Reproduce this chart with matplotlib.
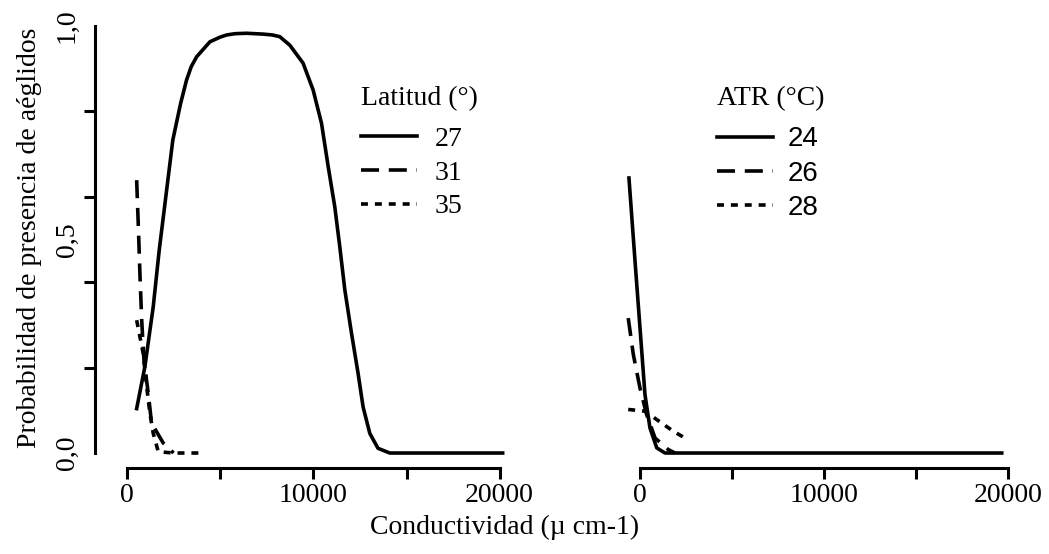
import numpy as np
import matplotlib
matplotlib.use('Agg')
from matplotlib import pyplot as plt
from matplotlib.ticker import FixedLocator

# left panel: latitude (conductivity, probability)
lat27_x = [520, 960, 1410, 1730, 2460, 2880, 3200, 3450, 3740, 4450, 5000, 5350, 5800, 6420,
           7310, 7800, 8200, 8740, 9450, 9990, 10440, 10800, 11150, 11420, 11690, 12050,
           12400, 12670, 13030, 13470, 14100, 15000, 20160]
lat27_y = [0.104, 0.202, 0.343, 0.475, 0.733, 0.819, 0.874, 0.905, 0.928, 0.963, 0.974, 0.979,
           0.982, 0.983, 0.981, 0.979, 0.975, 0.955, 0.913, 0.850, 0.772, 0.670, 0.577, 0.483,
           0.382, 0.280, 0.187, 0.108, 0.046, 0.011, 0.0, 0.0, 0.0]
lat31_x = [520, 610, 700, 790, 910, 1140, 1320, 1950, 2500]
lat31_y = [0.639, 0.530, 0.413, 0.311, 0.218, 0.140, 0.070, 0.023, 0.0]
lat35_x = [520, 660, 870, 1060, 1230, 1410, 1680, 2500, 4200]
lat35_y = [0.311, 0.280, 0.233, 0.155, 0.093, 0.046, 0.003, 0.0, 0.0]

# right panel: ATR (conductivity, probability)
atr24_x = [-600, -270, 0, 270, 540, 910, 1360, 19660]
atr24_y = [0.644, 0.449, 0.293, 0.137, 0.059, 0.012, 0.0, 0.0]
atr26_x = [-640, -360, 0, 360, 820, 1540, 1900]
atr26_y = [0.316, 0.230, 0.152, 0.090, 0.035, 0.008, 0.0]
atr28_x = [-640, 270, 1180, 1810, 2450]
atr28_y = [0.102, 0.098, 0.070, 0.051, 0.035]

lat_labels = ['27', '31', '35']
atr_labels = ['24', '26', '28']

plt.rcParams['font.family'] = 'Liberation Serif'
plt.rcParams['lines.scale_dashes'] = False

W, H = 1049, 554
fig = plt.figure(figsize=(W / 100, H / 100), dpi=100)

LW = 2.6
STYLES = ['-', (0, (13, 7)), (0, (5, 5))]


def make_axes(px_left, px_right, xlim):
    ax = fig.add_axes([px_left / W, 1 - 468 / H, (px_right - px_left) / W, (468 - 26) / H])
    ax.set_xlim(*xlim)
    ax.set_ylim(-0.0351, 1.0)
    for s in ['top', 'right']:
        ax.spines[s].set_visible(False)
    ax.spines['bottom'].set_bounds(0, 20000)
    ax.spines['bottom'].set_linewidth(2.2)
    ax.spines['left'].set_linewidth(2.2)
    ax.xaxis.set_major_locator(FixedLocator([0, 10000, 20000]))
    ax.xaxis.set_minor_locator(FixedLocator([5000, 15000]))
    ax.tick_params(axis='x', which='both', direction='out', length=8, width=2.2,
                   labelsize=20, pad=3)
    ax.set_xticklabels(['0', '10000', '20000'])
    ax.patch.set_alpha(0)
    return ax


def add_legend(ax, title, x_px, pad, prop):
    leg = ax.legend(title=title, loc='upper left', bbox_to_anchor=(x_px / W, 1 - 86 / H),
                    bbox_transform=fig.transFigure, frameon=False,
                    title_fontsize=20, handlelength=2.0, handletextpad=pad,
                    labelspacing=0.3, borderpad=0, borderaxespad=0, alignment='left',
                    prop=prop)
    leg.get_title().set_family('Liberation Serif')
    leg._legend_box.sep = 20 * 0.3 + 5
    return leg


ax1 = make_axes(95, 509, (-1716, 20500))
ax1.spines['left'].set_bounds(0, 1)
ax1.yaxis.set_major_locator(FixedLocator([0, 0.5, 1.0]))
ax1.yaxis.set_minor_locator(FixedLocator([0, 0.2, 0.4, 0.6, 0.8, 1.0]))
ax1.set_yticklabels(['0,0', '0,5', '1,0'], rotation=90, va='center')
ax1.tick_params(axis='y', which='major', length=0, labelsize=20, pad=11)
ax1.tick_params(axis='y', which='minor', direction='out', length=8, width=2.2)

for xs, ys, st, lb in zip([lat27_x, lat31_x, lat35_x], [lat27_y, lat31_y, lat35_y],
                          STYLES, lat_labels):
    ax1.plot(xs, ys, color='black', lw=LW, linestyle=st, label=lb,
             solid_joinstyle='round', dash_joinstyle='round')

add_legend(ax1, 'Latitud (°)', 361, 0.66, {'family': 'Liberation Serif', 'size': 20})

ax2 = make_axes(621.6, 1017.2, (-1000, 20500))
ax2.spines['left'].set_visible(False)
ax2.set_yticks([])

for xs, ys, st, lb in zip([atr24_x, atr26_x, atr28_x], [atr24_y, atr26_y, atr28_y],
                          STYLES, atr_labels):
    ax2.plot(xs, ys, color='black', lw=LW, linestyle=st, label=lb,
             solid_joinstyle='round', dash_joinstyle='round')

add_legend(ax2, 'ATR (°C)', 717, 0.56, {'family': 'Liberation Sans', 'size': 20})

fig.text(30 / W, 1 - 238 / H, 'Probabilidad de presencia de aéglidos', rotation=90,
         ha='center', va='center', fontsize=20)
fig.text(505 / W, 1 - 527 / H, 'Conductividad (µ cm-1)', ha='center', va='center', fontsize=20)

fig.savefig('out.png', dpi=100)
